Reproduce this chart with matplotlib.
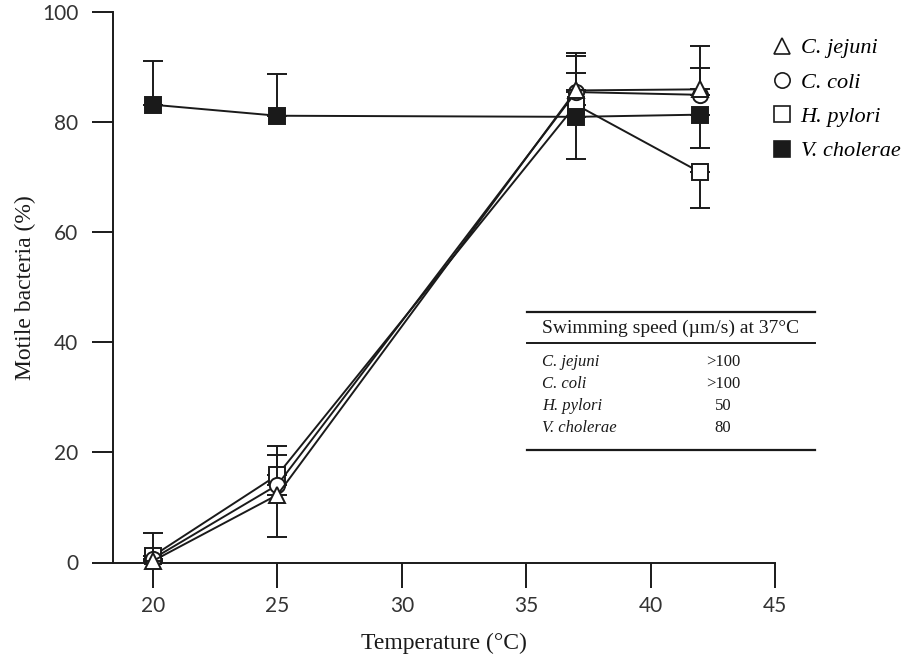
import matplotlib
matplotlib.use("Agg")
import matplotlib.pyplot as plt
from matplotlib.lines import Line2D
import numpy as np

# ---- data ----
temps = [20, 25, 37, 42]
series_names = ["C. jejuni", "C. coli", "H. pylori", "V. cholerae"]
jejuni = [0.3, 12.3, 85.8, 86.0]
coli = [0.7, 14.1, 85.5, 85.0]
pylori = [1.2, 15.9, 83.2, 70.9]
cholerae = [83.2, 81.2, 81.0, 81.4]

jejuni_up = [5.1, 0, 6.8, 7.9]
jejuni_lo = [0, 7.7, 0, 0]
coli_up = [0, 5.4, 6.5, 4.8]
coli_lo = [0, 0, 0, 0]
pylori_up = [0, 5.3, 5.7, 0]
pylori_lo = [0, 0, 0, 6.4]
cholerae_up = [8.0, 7.6, 0, 0]
cholerae_lo = [0, 0, 7.6, 6.1]

x_ticks = [20, 25, 30, 35, 40, 45]
y_ticks = [0, 20, 40, 60, 80, 100]

table_header = "Swimming speed (\u00b5m/s) at 37\u00b0C"
table_species = ["C. jejuni", "C. coli", "H. pylori", "V. cholerae"]
table_speed = [">100", ">100", "50", "80"]

# ---- figure ----
W, H = 907, 665
fig = plt.figure(figsize=(W / 100, H / 100), dpi=100)
ax = fig.add_axes([113 / W, 1 - 562.5 / H, (775 - 113) / W, (562.5 - 12.3) / H])

ink = "#1a1a1a"
series = [
    (jejuni, jejuni_lo, jejuni_up, "^", "white", 12),
    (coli, coli_lo, coli_up, "o", "white", 11),
    (pylori, pylori_lo, pylori_up, "s", "white", 11),
    (cholerae, cholerae_lo, cholerae_up, "s", ink, 11),
]
order_z = [5, 4, 3, 6]
handles = []
for (vals, lo, up, mk, fc, ms), z, name in zip(series, order_z, series_names):
    ax.errorbar(temps, vals, yerr=[lo, up], fmt="none", ecolor=ink,
                elinewidth=1.4, capsize=7, capthick=1.4, zorder=z - 0.5)
    ax.plot(temps, vals, color=ink, lw=1.4, marker=mk, ms=ms,
            mfc=fc, mec=ink, mew=1.4, zorder=z, clip_on=False)
    handles.append(Line2D([], [], ls="none", marker=mk, ms=ms, mfc=fc,
                          mec=ink, mew=1.2, label=name))

ax.set_xlim(18.39, 45)
ax.set_ylim(0, 100)
ax.set_xticks(x_ticks)
ax.set_yticks(y_ticks)
for s in ["top", "right"]:
    ax.spines[s].set_visible(False)
for s in ["left", "bottom"]:
    ax.spines[s].set_linewidth(1.4)
    ax.spines[s].set_color(ink)
ax.tick_params(axis="y", direction="out", length=15, width=1.4, pad=10,
               labelsize=15, colors=ink)
ax.tick_params(axis="x", direction="out", length=18, width=1.4, pad=6,
               labelsize=15, colors=ink)
for lab in ax.get_xticklabels() + ax.get_yticklabels():
    lab.set_family("Lato")
    lab.set_color("#333333")

ax.set_xlabel("Temperature (\u00b0C)", family="Liberation Serif", fontsize=17,
              color=ink, labelpad=12)
ax.set_ylabel("Motile bacteria (%)", family="Liberation Serif", fontsize=17,
              color=ink, labelpad=4)

# legend
leg = fig.legend(handles=handles, loc="upper left",
                 bbox_to_anchor=(764 / W, 1 - 29 / H), frameon=False,
                 prop={"family": "Liberation Serif", "style": "italic", "size": 16},
                 handlelength=0.8, handletextpad=0.45, labelspacing=0.62,
                 borderaxespad=0.0)

# inset table
def fx(px):
    return px / W

def fy(py):
    return 1 - py / H

for py, lw in [(312, 1.6), (343, 1.4), (450, 1.6)]:
    fig.add_artist(Line2D([fx(527), fx(815)], [fy(py), fy(py)], color=ink, lw=lw))
fig.text(fx(542), fy(328), table_header, family="Liberation Serif", fontsize=14,
         color=ink, va="center", ha="left")
row_y = [362, 384, 406, 428]
for name, val, ry in zip(table_species, table_speed, row_y):
    fig.text(fx(542), fy(ry), name, family="Liberation Serif", style="italic",
             fontsize=12, color=ink, va="center", ha="left")
    fig.text(fx(723), fy(ry), val, family="Liberation Serif", fontsize=12,
             color=ink, va="center", ha="center")

fig.savefig("out.png", dpi=100)
